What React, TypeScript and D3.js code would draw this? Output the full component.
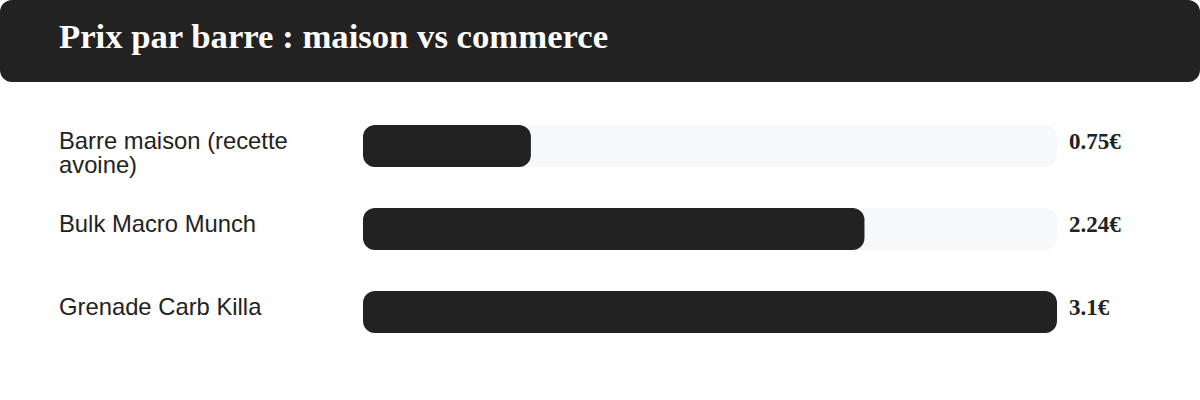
import React, { useEffect, useRef } from 'react'
import * as d3 from 'd3'

const title = 'Prix par barre : maison vs commerce'
const categories = ['Barre maison (recette avoine)', 'Bulk Macro Munch', 'Grenade Carb Killa']
const prices = [0.75, 2.24, 3.1]

export default function App() {
  const ref = useRef<SVGSVGElement | null>(null)

  const width = 1200
  const height = 400
  const barLeft = 363
  const barWidth = 694
  const barHeight = 42

  function draw() {
    const svg = d3.select(ref.current)
    svg.selectAll('*').remove()

    // header
    svg.append('rect')
      .attr('x', 0).attr('y', 0)
      .attr('width', width).attr('height', 82)
      .attr('rx', 12)
      .attr('fill', '#222222')
    svg.append('text')
      .attr('x', 59).attr('y', 48)
      .attr('fill', '#ffffff')
      .style('font-family', '"Liberation Serif", "Times New Roman", serif')
      .style('font-weight', 'bold')
      .style('font-size', '34.7px')
      .text(title)

    const x = d3.scaleLinear().domain([0, d3.max(prices) as number]).range([0, barWidth])
    const y = d3.scaleBand<string>().domain(categories).range([125, 125 + 83 * categories.length]).padding(0)

    const rows = svg.selectAll('g.row')
      .data(categories)
      .enter().append('g')
      .attr('class', 'row')
      .attr('transform', d => 'translate(0,' + y(d) + ')')

    rows.append('rect')
      .attr('x', barLeft).attr('y', 0)
      .attr('width', barWidth).attr('height', barHeight)
      .attr('rx', 12)
      .attr('fill', '#f7f8fa')

    rows.append('rect')
      .attr('x', barLeft).attr('y', 0)
      .attr('width', (d, i) => x(prices[i]))
      .attr('height', barHeight)
      .attr('rx', 12)
      .attr('fill', '#222222')

    const labels = rows.append('text')
      .attr('x', 59).attr('y', 24)
      .attr('fill', '#222222')
      .style('font-family', '"Liberation Sans", Arial, sans-serif')
      .style('font-size', '23.8px')

    // wrap long labels
    labels.each(function (d) {
      const t = d3.select(this)
      const words = d.split(' ')
      let line: string[] = []
      let tspan = t.append('tspan').attr('x', 59).attr('dy', 0)
      words.forEach(w => {
        line.push(w)
        tspan.text(line.join(' '))
        if ((tspan.node() as SVGTSpanElement).getComputedTextLength() > 280 && line.length > 1) {
          line.pop()
          tspan.text(line.join(' '))
          line = [w]
          tspan = t.append('tspan').attr('x', 59).attr('dy', 24).text(w)
        }
      })
    })

    rows.append('text')
      .attr('x', 1069).attr('y', 24)
      .attr('fill', '#222222')
      .style('font-family', '"Liberation Serif", "Times New Roman", serif')
      .style('font-weight', 'bold')
      .style('font-size', '23px')
      .text((d, i) => prices[i] + '€')
  }

  useEffect(() => {
    draw()
  }, [])

  return (
    <div style={{ position: 'absolute', left: 0, top: 0 }}>
      <svg ref={ref} width={width} height={height} style={{ display: 'block', background: '#fff' }} />
    </div>
  )
}
